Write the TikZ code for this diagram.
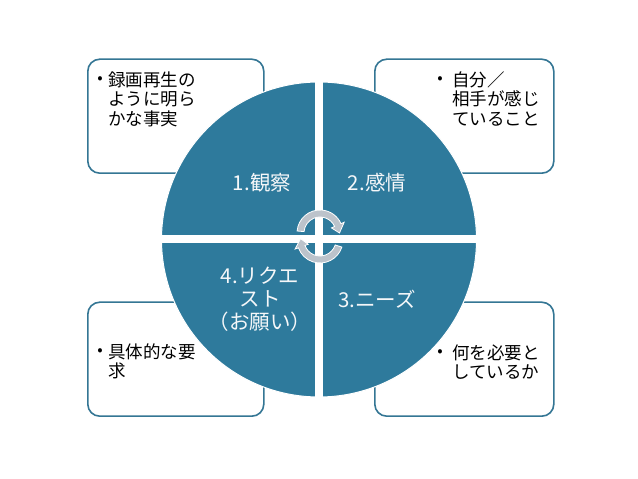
\documentclass[tikz,border=0pt]{standalone}
\usepackage{fontspec}
\setmainfont{Noto Sans CJK JP}
\usetikzlibrary{calc}
\definecolor{pieblue}{RGB}{46,122,156}
\definecolor{boxblue}{RGB}{52,118,148}
\definecolor{arrgray}{RGB}{188,195,203}
\definecolor{labwhite}{RGB}{245,247,249}
\begin{document}
\begin{tikzpicture}[x=1pt,y=1pt,
  infobox/.style={draw=boxblue, line width=1.6pt, rounded corners=12pt, fill=white,
    minimum height=114pt, inner sep=0pt, anchor=south west},
  bul/.style={inner sep=0pt, font=\fontsize{16}{19}\selectfont},
  btxt/.style={inner sep=0pt, anchor=north west, align=left, font=\fontsize{17.5}{19.5}\selectfont},
  qlab/.style={inner sep=0pt, text=labwhite, align=center, font=\fontsize{20.5}{23}\selectfont},
  cyc/.style={fill=arrgray, draw=white, line width=0.8pt}]
\useasboundingbox (0,0) rectangle (638,479);
\fill[white] (0,0) rectangle (638,479);
% boxes
\node[infobox, minimum width=176pt] (bTL) at (87,305) {};
\node[infobox, minimum width=179pt] (bTR) at (374,305) {};
\node[infobox, minimum width=176pt] (bBL) at (87,62) {};
\node[infobox, minimum width=179pt] (bBR) at (374,62) {};
% pie
\node[circle, fill=pieblue, draw=white, line width=1pt, minimum size=315pt, inner sep=0pt] (pie) at (319,239.5) {};
\draw[white, line width=8pt] (pie.north) -- (pie.south);
\draw[white, line width=8pt] (pie.west) -- (pie.east);
% box texts
\node[bul] (u1) at (100,399) {•};
\node[btxt] (t1) at (108,407.5) {録画再生の\\ように明ら\\かな事実};
\node[bul] (u2) at (440,399) {•};
\node[btxt] (t2) at (452,407.5) {自分／\\相手が感じ\\ていること};
\node[bul] (u3) at (100,127) {•};
\node[btxt] (t3) at (108,135.5) {具体的な要\\求};
\node[bul] (u4) at (440,126) {•};
\node[btxt] (t4) at (452,134.5) {何を必要と\\しているか};
% quadrant labels
\node[qlab] (q1) at (262,296) {1.観察};
\node[qlab] (q2) at (377,296) {2.感情};
\node[qlab] (q3) at (377,180) {3.ニーズ};
\node[qlab] (q4) at (260,179.5) {4.リクエ\\スト\\（お願い）};
% cycle arrows
\coordinate (c1) at (320,246);
\coordinate (c2) at (320,239);
\filldraw[cyc] ($(c1)+(175:23pt)$) arc[start angle=175, end angle=24, radius=23pt]
  -- ($(c1)+(24:26.5pt)$) -- ($(c1)+(0:19.5pt)$) -- ($(c1)+(24:12.5pt)$)
  -- ($(c1)+(24:16pt)$) arc[start angle=24, end angle=175, radius=16pt] -- cycle;
\filldraw[cyc] ($(c2)+(-18:23pt)$) arc[start angle=-18, end angle=-160, radius=23pt]
  -- ($(c2)+(-160:26.5pt)$) -- ($(c2)+(-184:19.5pt)$) -- ($(c2)+(-160:12.5pt)$)
  -- ($(c2)+(-160:16pt)$) arc[start angle=-160, end angle=-18, radius=16pt] -- cycle;
\end{tikzpicture}
\end{document}
